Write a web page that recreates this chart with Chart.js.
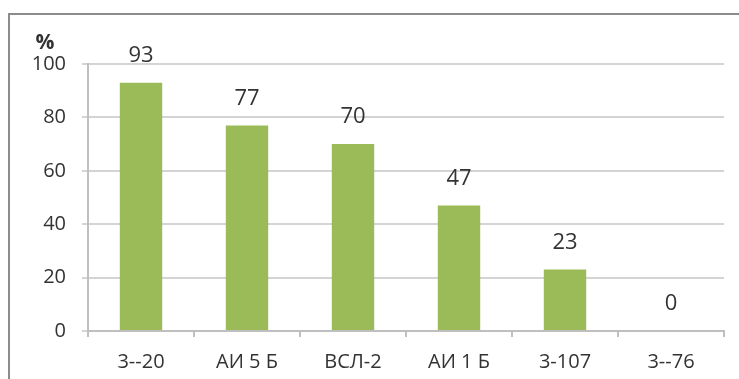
<!DOCTYPE html>
<html>
<head>
<meta charset="utf-8">
<script src="https://cdn.jsdelivr.net/npm/chart.js@4"></script>
<style>
  html, body { margin: 0; padding: 0; background: #fff; }
  #wrap { position: relative; width: 739px; height: 379px; overflow: hidden; }
  #frame { position: absolute; left: 8px; top: 13px; width: 800px; height: 400px;
           border-top: 2px solid #8c8c8c; border-left: 2px solid #8c8c8c; }
  canvas { position: absolute; left: 0; top: 0; }
</style>
</head>
<body>
<div id="wrap">
  <div id="frame"></div>
  <canvas id="chart" width="739" height="379"></canvas>
</div>
<script>
// Данные диаграммы
const categories = ['3--20', 'АИ 5 Б', 'ВСЛ-2', 'АИ 1 Б', '3-107', '3--76'];
const values = [93, 77, 70, 47, 23, 0];
const yTicks = [0, 20, 40, 60, 80, 100];

const textColor = '#333333';
const fontFamily = '"Open Sans", "Liberation Sans", sans-serif';

// Подписи значений над столбцами и знак % над осью
const labelPlugin = {
  id: 'labels',
  afterDatasetsDraw(chart) {
    const ctx = chart.ctx;
    const meta = chart.getDatasetMeta(0);
    ctx.save();
    ctx.fillStyle = textColor;
    ctx.font = '22px ' + fontFamily;
    ctx.textAlign = 'center';
    ctx.textBaseline = 'middle';
    meta.data.forEach((bar, i) => {
      ctx.fillText(String(values[i]), bar.x, bar.y - 27);
    });
    const y = chart.scales.y;
    ctx.font = 'bold 21px ' + fontFamily;
    ctx.fillText('%', 45, y.top - 21);
    ctx.restore();
  }
};

new Chart(document.getElementById('chart'), {
  type: 'bar',
  data: {
    labels: categories,
    datasets: [{
      data: values,
      backgroundColor: '#9bbb59',
      borderWidth: 0,
      barPercentage: 0.8,
      categoryPercentage: 0.5
    }]
  },
  options: {
    responsive: false,
    animation: false,
    layout: { padding: { left: 0, right: 15, top: 64, bottom: 0 } },
    plugins: {
      legend: { display: false },
      tooltip: { enabled: false }
    },
    scales: {
      x: {
        offset: true,
        grid: {
          offset: true,
          drawOnChartArea: false,
          drawTicks: true,
          tickLength: 6,
          color: '#bfbfbf',
          lineWidth: 2
        },
        border: { color: '#bfbfbf', width: 2 },
        ticks: { color: textColor, font: { size: 20, family: fontFamily }, padding: 13 },
        afterFit(scale) { scale.height = 48; }
      },
      y: {
        min: 0,
        max: 100,
        afterBuildTicks(scale) { scale.ticks = yTicks.map(v => ({ value: v })); },
        grid: { color: '#d4d4d4', lineWidth: 2, tickLength: 6 },
        border: { color: '#bfbfbf', width: 2 },
        ticks: { color: textColor, font: { size: 20, family: fontFamily }, padding: 16 },
        afterFit(scale) { scale.width = 88; }
      }
    }
  },
  plugins: [labelPlugin]
});
</script>
</body>
</html>
